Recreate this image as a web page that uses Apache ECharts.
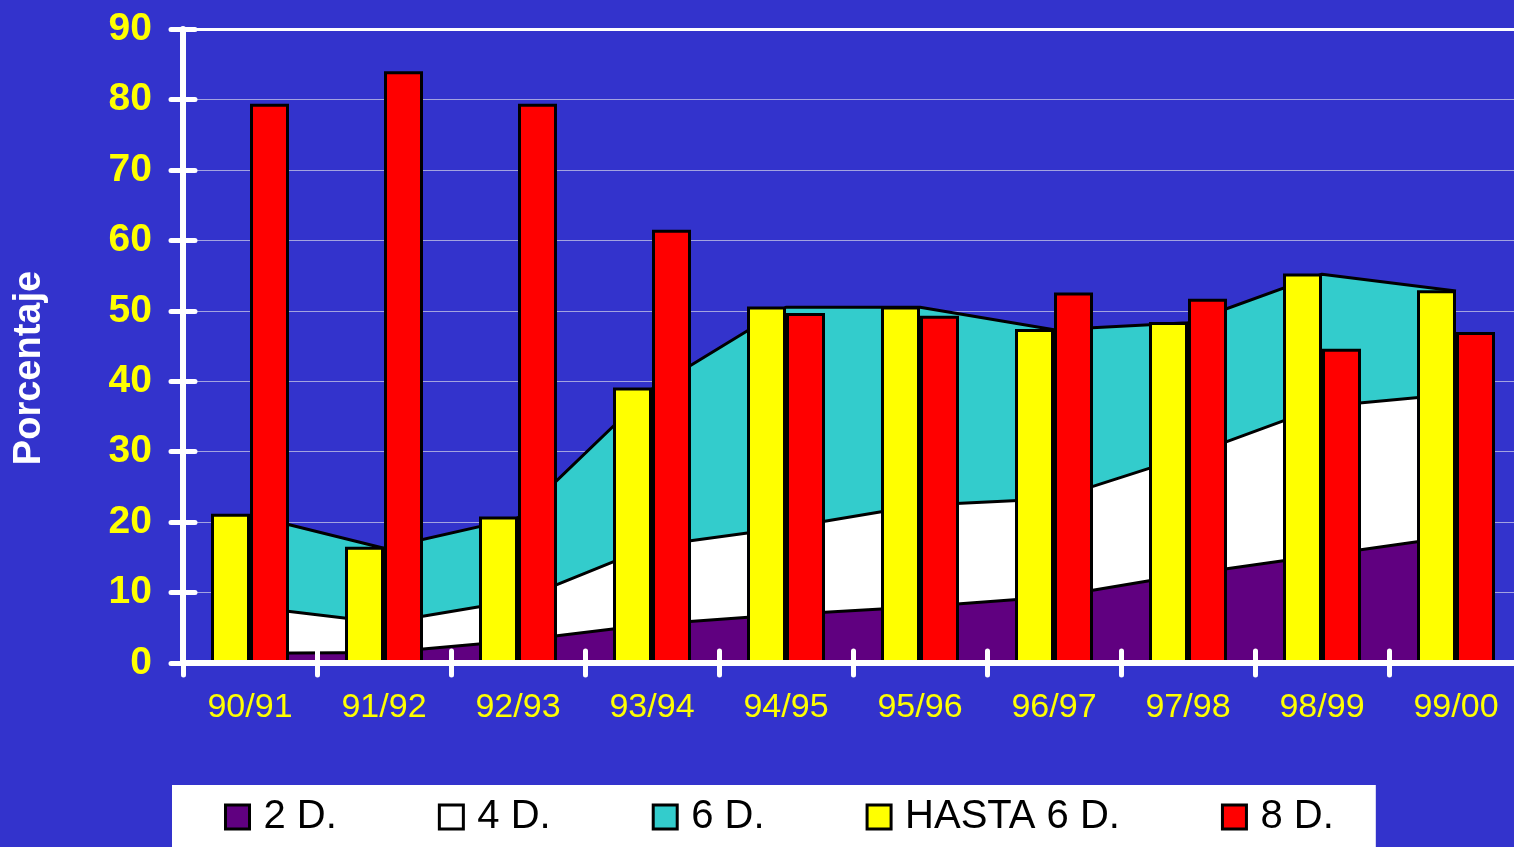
<!DOCTYPE html>
<html>
<head>
<meta charset="utf-8">
<script src="https://cdn.jsdelivr.net/npm/echarts@6/dist/echarts.min.js"></script>
<style>
  html, body { margin: 0; padding: 0; background: #3333cc; }
  #chart { width: 1514px; height: 847px; }
</style>
</head>
<body>
<div id="chart"></div>
<script>
// Data
const categories = ['90/91', '91/92', '92/93', '93/94', '94/95', '95/96', '96/97', '97/98', '98/99', '99/00'];
const twoD = [1.4, 1.5, 3.2, 5.5, 6.9, 8.0, 9.4, 12.6, 15.3, 18.0];
const fourD = [6.6, 4.2, 5.7, 11.1, 12.3, 14.4, 13.9, 16.8, 21.1, 20.2];
const sixD = [13.0, 10.6, 11.7, 22.3, 31.3, 28.1, 24.0, 18.9, 18.8, 14.6];
const upToSixD = [21.2, 16.5, 20.8, 39.1, 50.6, 50.6, 47.4, 48.4, 55.3, 52.9];
const eightD = [79.4, 84.0, 79.4, 61.5, 49.7, 49.3, 52.6, 51.7, 44.6, 47.0];

const FONT = '"Liberation Sans", Arial, sans-serif';
const WHITE_LINE = { color: '#ffffff', width: 6, cap: 'round' };
const TICK_LINE = { color: '#ffffff', width: 5, cap: 'round' };

const chart = echarts.init(document.getElementById('chart'));

function areaSeries(name, data, color) {
  return {
    name: name,
    type: 'line',
    stack: 'total',
    data: data,
    symbol: 'none',
    z: 2,
    itemStyle: { color: color },
    lineStyle: { color: '#000000', width: 3 },
    areaStyle: { color: color, opacity: 1 }
  };
}

function barSeries(name, data, color) {
  return {
    name: name,
    type: 'bar',
    data: data,
    barWidth: 39,
    barGap: '0%',
    z: 3,
    itemStyle: { color: color, borderColor: '#000000', borderWidth: 3 }
  };
}

const option = {
  backgroundColor: '#3333cc',
  animation: false,
  // the plot runs a little past the right edge of the picture
  grid: { left: 183, right: -9, top: 29, bottom: 184, outerBoundsMode: 'none', containLabel: false },
  legend: {
    left: 172,
    top: 785,
    orient: 'horizontal',
    backgroundColor: '#ffffff',
    padding: [12, 42, 40, 52],
    itemWidth: 24,
    itemHeight: 24,
    itemGap: 101,
    icon: 'rect',
    itemStyle: { borderColor: '#000000', borderWidth: 3 },
    // the long label has a bit more room after it in the original
    formatter: function (name) {
      return name === 'HASTA 6 D.' ? '{w|' + name + '}' : name;
    },
    textStyle: {
      color: '#000000', fontSize: 40, fontFamily: FONT, padding: [0, 0, 0, 9],
      rich: { w: { color: '#000000', fontSize: 40, fontFamily: FONT, padding: [0, 8, 0, 0] } }
    },
    data: [
      { name: '2 D.', itemStyle: { color: '#600080' } },
      { name: '4 D.', itemStyle: { color: '#ffffff' } },
      { name: '6 D.', itemStyle: { color: '#33cccc' } },
      { name: 'HASTA 6 D.', itemStyle: { color: '#ffff00' } },
      { name: '8 D.', itemStyle: { color: '#ff0000' } }
    ]
  },
  graphic: [{
    type: 'text',
    x: 30,
    y: 368,
    rotation: Math.PI / 2,
    style: {
      text: 'Porcentaje',
      fill: '#ffffff',
      font: 'bold 38px ' + FONT,
      textAlign: 'center',
      textVerticalAlign: 'middle'
    }
  }],
  xAxis: [
    {
      type: 'category',
      data: categories,
      position: 'bottom',
      z: 10,
      axisLine: { lineStyle: WHITE_LINE },
      axisTick: { show: true, length: 12, interval: 0, lineStyle: TICK_LINE },
      axisLabel: { color: '#ffff00', fontSize: 34, fontFamily: FONT, margin: 28, interval: 0 }
    },
    {
      type: 'category',
      data: categories,
      position: 'bottom',
      z: 10,
      axisLine: { show: false },
      axisTick: { show: true, inside: true, length: 12, interval: 0, lineStyle: TICK_LINE },
      axisLabel: { show: false }
    },
    {
      type: 'category',
      data: categories,
      position: 'top',
      axisLine: { lineStyle: { color: '#ffffff', width: 3 } },
      axisTick: { show: false },
      axisLabel: { show: false }
    }
  ],
  yAxis: [
    {
      type: 'value',
      position: 'left',
      min: 0,
      max: 90,
      interval: 10,
      axisLine: { show: true, lineStyle: WHITE_LINE },
      axisTick: { show: true, length: 12, lineStyle: TICK_LINE },
      axisLabel: { color: '#ffff00', fontSize: 39, fontWeight: 'bold', fontFamily: FONT, margin: 31 },
      splitLine: { show: true, lineStyle: { color: '#a3a3e0', width: 1 } }
    },
    {
      type: 'value',
      position: 'left',
      min: 0,
      max: 90,
      interval: 10,
      z: 10,
      axisLine: { show: false },
      axisTick: { show: true, inside: true, length: 12, lineStyle: TICK_LINE },
      axisLabel: { show: false },
      splitLine: { show: false }
    }
  ],
  series: [
    areaSeries('2 D.', twoD, '#600080'),
    areaSeries('4 D.', fourD, '#ffffff'),
    areaSeries('6 D.', sixD, '#33cccc'),
    barSeries('HASTA 6 D.', upToSixD, '#ffff00'),
    barSeries('8 D.', eightD, '#ff0000')
  ]
};

chart.setOption(option);
</script>
</body>
</html>
